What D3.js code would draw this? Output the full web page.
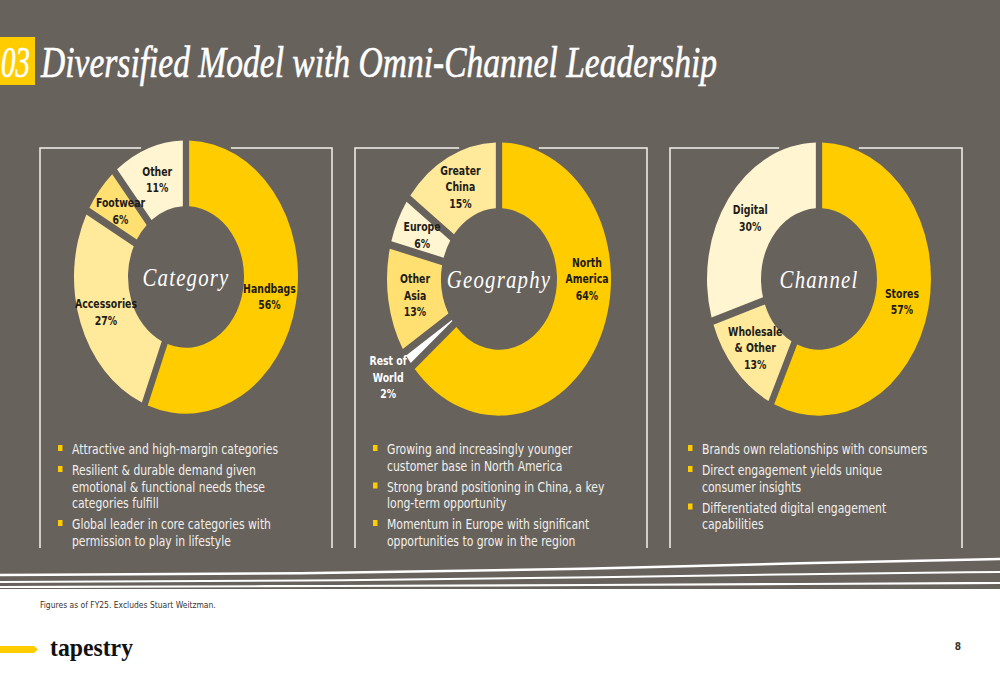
<!DOCTYPE html>
<html>
<head>
<meta charset="utf-8">
<script src="https://cdn.jsdelivr.net/npm/d3@7"></script>
<style>
html, body { margin: 0; padding: 0; background: #fff; }
svg { display: block; }
</style>
</head>
<body>
<div id="chart"></div>
<script>
const W = 1000, H = 685;
const colorBg = "#68625d";
const colorYellow = "#ffcc00";
const colorMid = "#ffe070";
const colorLight = "#ffe99a";
const colorCream = "#fff5d0";
const colorInk = "#1e1b18";
const sans = "'DejaVu Sans Condensed', 'DejaVu Sans', sans-serif";
const serif = "'Liberation Serif', 'DejaVu Serif', serif";

// slide is stretched vertically, donuts are ellipses
const stretch = 1.22;
const outerR = 112;
const innerR = 58;

// data
const categoryNames = ["Handbags", "Accessories", "Footwear", "Other"];
const categoryValues = [56, 27, 6, 11];
const categoryColors = [colorYellow, colorLight, colorMid, colorCream];

const geographyNames = ["North\nAmerica", "Rest of\nWorld", "Other\nAsia", "Europe", "Greater\nChina"];
const geographyValues = [64, 2, 13, 6, 15];
const geographyColors = [colorYellow, "#ffffff", colorMid, colorCream, colorLight];

const channelNames = ["Stores", "Wholesale\n& Other", "Digital"];
const channelValues = [57, 13, 30];
const channelColors = [colorYellow, colorLight, colorCream];

const categoryBullets = [
    ["Attractive and high-margin categories"],
    ["Resilient & durable demand given", "emotional & functional needs these", "categories fulfill"],
    ["Global leader in core categories with", "permission to play in lifestyle"]
];
const geographyBullets = [
    ["Growing and increasingly younger", "customer base in North America"],
    ["Strong brand positioning in China, a key", "long-term opportunity"],
    ["Momentum in Europe with significant", "opportunities to grow in the region"]
];
const channelBullets = [
    ["Brands own relationships with consumers"],
    ["Direct engagement yields unique", "consumer insights"],
    ["Differentiated digital engagement", "capabilities"]
];

const panels = [
    {title: "Category", names: categoryNames, values: categoryValues, colors: categoryColors, bullets: categoryBullets, x: 40, cx: 186, cy: 277},
    {title: "Geography", names: geographyNames, values: geographyValues, colors: geographyColors, bullets: geographyBullets, x: 355, cx: 499, cy: 279},
    {title: "Channel", names: channelNames, values: channelValues, colors: channelColors, bullets: channelBullets, x: 670, cx: 819, cy: 279}
];

// hand placed labels in the original
const labelOverrides = {
    "North\nAmerica": {angle: Math.PI / 2, r: 88},
    "Rest of\nWorld": {r: 137, color: "#ffffff"}
};

const svg = d3.select("#chart").append("svg")
    .attr("width", W)
    .attr("height", H);

svg.append("rect").attr("width", W).attr("height", H).attr("fill", "#ffffff");
svg.append("rect").attr("width", W).attr("height", 589).attr("fill", colorBg);

// text squeezed sideways, the slide fonts are narrow
function narrowText(x, y, sx) {
    return svg.append("text")
        .attr("transform", `translate(${x},${y}) scale(${sx},1)`);
}

// title
svg.append("rect").attr("x", 0).attr("y", 37).attr("width", 35).attr("height", 48).attr("fill", colorYellow);
svg.append("text")
    .attr("x", 1).attr("y", 77)
    .attr("textLength", 29).attr("lengthAdjust", "spacingAndGlyphs")
    .style("font-family", serif).style("font-style", "italic")
    .style("font-size", "44px").style("fill", "#fff")
    .style("stroke", "#fff").style("stroke-width", 0.6)
    .text("03");
svg.append("text")
    .attr("x", 41).attr("y", 77)
    .attr("textLength", 676).attr("lengthAdjust", "spacingAndGlyphs")
    .style("font-family", serif).style("font-style", "italic")
    .style("font-size", "44px").style("fill", "#fff")
    .style("stroke", "#fff").style("stroke-width", 0.6)
    .text("Diversified Model with Omni-Channel Leadership");

const pie = d3.pie().sort(null).value(d => d.value);
const arc = d3.arc().innerRadius(innerR).outerRadius(outerR).padAngle(0.05);
const panelW = 292;
const boxTop = 148, boxBottom = 548;

panels.forEach(p => {
    const data = p.names.map((n, i) => ({name: n, value: p.values[i], color: p.colors[i]}));
    const arcs = pie(data);

    // box outline, open where the donut crosses it
    const gapHalf = Math.sqrt(1 - Math.pow((boxTop - p.cy) / (outerR * stretch), 2)) * outerR + 8;
    const box = svg.append("g")
        .attr("stroke", "#f4f2ee")
        .attr("stroke-width", 1.5)
        .attr("fill", "none");
    box.append("path").attr("d", `M${p.x},${boxBottom}V${boxTop}H${p.cx - gapHalf}`);
    box.append("path").attr("d", `M${p.cx + gapHalf},${boxTop}H${p.x + panelW}V${boxBottom}`);

    const g = svg.append("g")
        .attr("transform", `translate(${p.cx},${p.cy}) scale(1,${stretch})`);
    g.selectAll("path.slice")
        .data(arcs)
        .enter()
        .append("path")
        .attr("class", "slice")
        .attr("d", arc)
        .attr("fill", d => d.data.color);

    narrowText(p.cx, p.cy + 9, 0.8)
        .attr("text-anchor", "middle")
        .style("font-family", serif).style("font-style", "italic")
        .style("font-size", "26px").style("letter-spacing", "1.5px")
        .style("fill", "#fff")
        .text(p.title);

    // slice labels
    arcs.forEach(a => {
        const o = labelOverrides[a.data.name] || {};
        const ang = o.angle !== undefined ? o.angle : (a.startAngle + a.endAngle) / 2;
        const r = o.r !== undefined ? o.r : (innerR + outerR) / 2;
        const lx = p.cx + r * Math.sin(ang);
        const ly = p.cy - r * Math.cos(ang) * stretch;
        const lines = a.data.name.split("\n").concat([a.data.value + "%"]);
        const lh = 16.5;
        const t = narrowText(lx, 0, 0.8)
            .attr("text-anchor", "middle")
            .style("font-family", sans)
            .style("font-size", "13px")
            .style("font-weight", "bold")
            .style("fill", o.color || colorInk);
        lines.forEach((ln, i) => {
            t.append("tspan")
                .attr("x", 0)
                .attr("y", ly - (lines.length - 1) * lh / 2 + i * lh + 4.5)
                .text(ln);
        });
    });

    // bullets
    let y = 449;
    p.bullets.forEach(b => {
        svg.append("rect")
            .attr("x", p.x + 18).attr("y", y - 4)
            .attr("width", 4.5).attr("height", 6)
            .attr("fill", colorYellow);
        b.forEach(ln => {
            narrowText(p.x + 32, y + 5, 0.86)
                .style("font-family", sans)
                .style("font-size", "14px")
                .style("fill", "#f2f0ec")
                .text(ln);
            y += 16.5;
        });
        y += 4.5;
    });
});

// wavy white lines at the bottom of the grey area
const line = d3.line().curve(d3.curveBasis);
const waves = [
    {pts: [[0, 575], [300, 574], [600, 569], [800, 563], [1000, 559]], w: 2.5},
    {pts: [[0, 582], [300, 581], [620, 577], [800, 574], [1000, 572]], w: 2},
    {pts: [[0, 587], [350, 586], [600, 585], [800, 584], [1000, 583]], w: 2.2}
];
svg.selectAll("path.wave")
    .data(waves)
    .enter()
    .append("path")
    .attr("class", "wave")
    .attr("d", d => line(d.pts))
    .attr("fill", "none")
    .attr("stroke", "#ffffff")
    .attr("stroke-width", d => d.w);

// footer
narrowText(40, 608, 0.89)
    .style("font-family", sans).style("font-size", "9.5px")
    .style("fill", "#333")
    .text("Figures as of FY25. Excludes Stuart Weitzman.");

svg.append("path")
    .attr("d", "M0,646H34L38,649.5L34,653H0Z")
    .attr("fill", colorYellow);
svg.append("text")
    .attr("x", 50).attr("y", 656)
    .attr("textLength", 83).attr("lengthAdjust", "spacingAndGlyphs")
    .style("font-family", serif).style("font-weight", "bold")
    .style("font-size", "25px").style("fill", "#111")
    .text("tapestry");

svg.append("text")
    .attr("x", 958).attr("y", 650)
    .attr("text-anchor", "middle")
    .style("font-family", sans).style("font-weight", "bold")
    .style("font-size", "10px").style("fill", "#333")
    .text("8");
</script>
</body>
</html>
